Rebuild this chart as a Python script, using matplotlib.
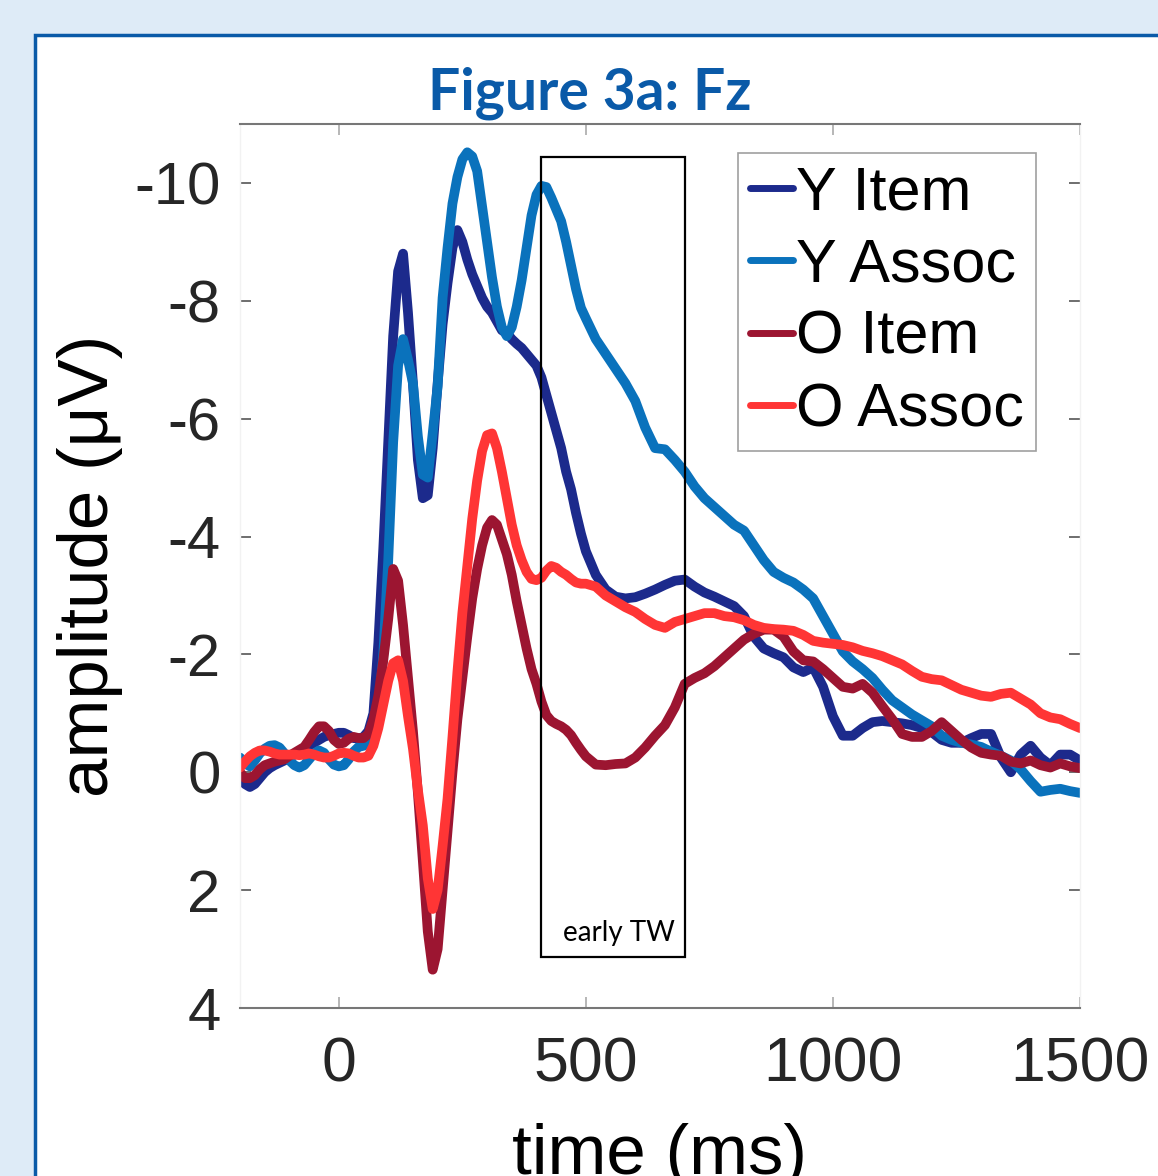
import numpy as np
import matplotlib.pyplot as plt
from matplotlib.patches import Rectangle

plt.rcParams['axes.unicode_minus'] = False

# time axis (ms): 10 ms steps up to 500, then 20 ms steps
time_early = [-200, -190, -180, -170, -160, -150, -140, -130, -120, -110,
              -100, -90, -80, -70, -60, -50, -40, -30, -20, -10,
              0, 10, 20, 30, 40, 50, 60, 70, 80, 90,
              100, 110, 120, 130, 140, 150, 160, 170, 180, 190,
              200, 210, 220, 230, 240, 250, 260, 270, 280, 290,
              300, 310, 320, 330, 340, 350, 360, 370, 380, 390,
              400, 410, 420, 430, 440, 450, 460, 470, 480, 490]
time_late = [500, 520, 540, 560, 580, 600, 620, 640, 660, 680,
             700, 720, 740, 760, 780, 800, 820, 840, 860, 880,
             900, 920, 940, 960, 980, 1000, 1020, 1040, 1060, 1080,
             1100, 1120, 1140, 1160, 1180, 1200, 1220, 1240, 1260, 1280,
             1300, 1320, 1340, 1360, 1380, 1400, 1420, 1440, 1460, 1480, 1500]
time_ms = time_early + time_late

# amplitudes (uV)
y_item = [0.1, 0.2, 0.25, 0.2, 0.1, 0.0, -0.07, -0.12, -0.16, -0.2,
          -0.25, -0.3, -0.35, -0.4, -0.45, -0.5, -0.55, -0.6, -0.63, -0.65,
          -0.67, -0.67, -0.63, -0.58, -0.57, -0.6, -0.7, -1.0, -2.2, -3.8,
          -5.6, -7.4, -8.5, -8.8, -7.8, -6.6, -5.3, -4.65, -4.7, -5.5,
          -6.6, -7.6, -8.3, -8.9, -9.2, -9.0, -8.7, -8.45, -8.25, -8.05,
          -7.9, -7.8, -7.65, -7.5, -7.45, -7.35, -7.27, -7.2, -7.1, -7.0,
          -6.9, -6.7, -6.4, -6.1, -5.8, -5.5, -5.1, -4.8, -4.4, -4.05,
          -3.75, -3.35, -3.1, -2.98, -2.95, -2.97, -3.03, -3.1, -3.18, -3.25,
          -3.27, -3.15, -3.05, -2.98, -2.9, -2.82, -2.65, -2.3, -2.1, -2.02,
          -1.95, -1.78, -1.7, -1.78, -1.45, -0.95, -0.62, -0.62, -0.75, -0.85,
          -0.87, -0.85, -0.83, -0.8, -0.75, -0.68, -0.55, -0.5, -0.5, -0.58,
          -0.65, -0.65, -0.25, 0.0, -0.3, -0.45, -0.25, -0.12, -0.3, -0.3, -0.2]

y_assoc = [-0.25, -0.15, -0.1, -0.2, -0.32, -0.4, -0.45, -0.46, -0.42, -0.32,
           -0.2, -0.12, -0.08, -0.12, -0.22, -0.32, -0.37, -0.33, -0.22, -0.13,
           -0.1, -0.12, -0.22, -0.35, -0.43, -0.45, -0.5, -0.6, -1.0, -2.0,
           -3.6, -5.6, -6.9, -7.35, -7.0, -6.6, -5.7, -5.05, -5.0, -5.75,
           -6.55, -8.05, -8.9, -9.65, -10.1, -10.4, -10.52, -10.45, -10.2, -9.6,
           -9.0, -8.4, -7.9, -7.55, -7.4, -7.55, -7.9, -8.35, -8.9, -9.45,
           -9.8, -9.95, -9.93, -9.75, -9.55, -9.35, -9.0, -8.6, -8.2, -7.88,
           -7.7, -7.35, -7.1, -6.85, -6.6, -6.3, -5.85, -5.5, -5.48, -5.3,
           -5.1, -4.85, -4.65, -4.5, -4.35, -4.2, -4.1, -3.85, -3.6, -3.4,
           -3.3, -3.22, -3.1, -2.95, -2.65, -2.35, -2.05, -1.88, -1.75, -1.6,
           -1.4, -1.22, -1.1, -0.98, -0.88, -0.78, -0.62, -0.55, -0.5, -0.47,
           -0.43, -0.35, -0.28, -0.2, -0.05, 0.15, 0.33, 0.3, 0.28, 0.32, 0.35]

o_item = [0.0, 0.1, 0.1, 0.05, -0.05, -0.12, -0.15, -0.18, -0.2, -0.22,
          -0.28, -0.33, -0.38, -0.43, -0.55, -0.68, -0.78, -0.78, -0.7, -0.55,
          -0.48, -0.5, -0.57, -0.6, -0.58, -0.58, -0.65, -0.9, -1.3, -1.9,
          -2.6, -3.45, -3.25, -2.5, -1.6, -0.7, 0.35, 1.5, 2.7, 3.35,
          3.0, 2.0, 1.0, 0.0, -0.9, -1.6, -2.3, -2.95, -3.45, -3.85,
          -4.15, -4.28, -4.2, -3.95, -3.7, -3.35, -2.9, -2.5, -2.1, -1.75,
          -1.5, -1.2, -0.97, -0.87, -0.82, -0.78, -0.72, -0.63, -0.5, -0.38,
          -0.27, -0.13, -0.12, -0.14, -0.15, -0.25, -0.42, -0.62, -0.8, -1.1,
          -1.5, -1.6, -1.68, -1.8, -1.95, -2.1, -2.25, -2.35, -2.42, -2.42,
          -2.3, -2.05, -1.9, -1.88, -1.75, -1.6, -1.45, -1.42, -1.5, -1.35,
          -1.12, -0.9, -0.65, -0.6, -0.6, -0.7, -0.85, -0.7, -0.55, -0.42,
          -0.33, -0.3, -0.28, -0.18, -0.15, -0.2, -0.12, -0.08, -0.15, -0.1, -0.07]

o_assoc = [-0.08, -0.18, -0.27, -0.33, -0.37, -0.37, -0.35, -0.32, -0.3, -0.3,
           -0.3, -0.3, -0.29, -0.3, -0.32, -0.3, -0.27, -0.25, -0.25, -0.28,
           -0.32, -0.33, -0.32, -0.28, -0.25, -0.25, -0.28, -0.45, -0.75, -1.15,
           -1.55, -1.85, -1.9, -1.55, -0.95, -0.4, 0.3, 0.9, 1.8, 2.32,
           2.0, 1.25, 0.45, -0.6, -1.7, -2.7, -3.5, -4.3, -4.95, -5.45,
           -5.72, -5.75, -5.5, -5.1, -4.65, -4.2, -3.85, -3.6, -3.4, -3.28,
           -3.26, -3.3, -3.42, -3.5, -3.47, -3.4, -3.35, -3.28, -3.22, -3.2,
           -3.2, -3.15, -3.0, -2.9, -2.8, -2.72, -2.6, -2.5, -2.45, -2.55,
           -2.6, -2.65, -2.7, -2.7, -2.65, -2.63, -2.58, -2.5, -2.45, -2.43,
           -2.42, -2.4, -2.33, -2.23, -2.2, -2.18, -2.16, -2.12, -2.06, -2.02,
           -1.97, -1.9, -1.83, -1.72, -1.62, -1.58, -1.56, -1.48, -1.4, -1.35,
           -1.3, -1.28, -1.33, -1.35, -1.25, -1.15, -1.0, -0.93, -0.9, -0.82, -0.75]

series_names = ['Y Item', 'Y Assoc', 'O Item', 'O Assoc']
series_colors = ['#1c2a8c', '#0a72bc', '#9c1531', '#ff3535']
window_ms = [410, 700]
window_uv = [-10.44, 3.13]

fig = plt.figure(figsize=(11.58, 11.76), dpi=100, facecolor='#deebf7')

# white slide panel with blue border (behind the axes)
panel = Rectangle((35 / 1158, -0.1), 1.2, 1 - 35 / 1176 + 0.1,
                  transform=fig.transFigure, facecolor='white',
                  edgecolor='#0a5aa8', linewidth=2.5, zorder=-5)
fig.patches.append(panel)

ax = fig.add_axes([240 / 1158, 1 - 1008 / 1176, 840 / 1158, 884 / 1176])
ax.set_zorder(2)
ax.set_facecolor('white')

for vals, name, col in zip([y_item, y_assoc, o_item, o_assoc], series_names, series_colors):
    ax.plot(time_ms, vals, color=col, lw=7, label=name, solid_capstyle='round',
            solid_joinstyle='round')

ax.add_patch(Rectangle((window_ms[0], window_uv[1]), window_ms[1] - window_ms[0],
                       window_uv[0] - window_uv[1], fill=False, edgecolor='black',
                       linewidth=1.6, zorder=5))
ax.text(566, 2.72, 'early TW', family='Lato', fontsize=20,
        ha='center', va='center', color='black', zorder=6)

ax.set_xlim(-200, 1500)
ax.set_ylim(4, -11)
ax.set_xticks([0, 500, 1000, 1500])
ax.set_yticks([-10, -8, -6, -4, -2, 0, 2, 4])

for s in ['top', 'bottom']:
    ax.spines[s].set_color('#777777')
    ax.spines[s].set_linewidth(1.5)
for s in ['left', 'right']:
    ax.spines[s].set_color('#f2f2f2')
    ax.spines[s].set_linewidth(1.0)

ax.tick_params(axis='y', direction='in', length=8, width=1.2, color='#555555',
               left=True, right=True, labelsize=43, pad=14,
               labelcolor='#262626')
ax.tick_params(axis='x', direction='in', length=8, width=1.2, color='#aaaaaa',
               top=True, bottom=True, labelsize=45, pad=20,
               labelcolor='#262626')
for lab in ax.get_xticklabels() + ax.get_yticklabels():
    lab.set_family('Liberation Sans')

ax.set_xlabel('time (ms)', family='Liberation Sans', fontsize=51, labelpad=20,
              color='black')
ax.set_ylabel('amplitude (μV)', family='Liberation Sans', fontsize=51,
              labelpad=8, color='black')

leg = ax.legend(loc='upper right', bbox_to_anchor=(0.948, 0.967),
                prop={'family': 'Liberation Sans', 'size': 44},
                handlelength=0.7, handletextpad=0.06, labelspacing=0.25,
                borderpad=0.2, borderaxespad=0, frameon=True, fancybox=False)
leg.get_frame().set_edgecolor('#888888')
leg.get_frame().set_linewidth(1.2)
for h in leg.get_lines():
    h.set_linewidth(5)

fig.text(590 / 1158, 1 - 93 / 1176, 'Figure 3a: Fz', family='Lato',
         weight='bold', fontsize=41, color='#0a5aa8', ha='center', va='center')

fig.savefig('out.png', dpi=100, facecolor=fig.get_facecolor())
